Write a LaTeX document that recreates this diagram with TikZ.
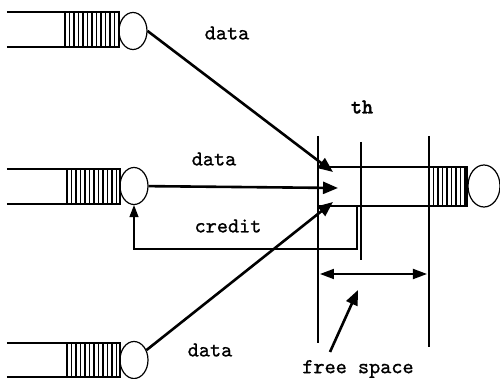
\documentclass[tikz,border=0pt]{standalone}
\usepackage{fontspec}
\newfontfamily\courfont[FakeBold=1.0]{lmmono10-regular.otf}
\newfontfamily\courboldfont[FakeBold=1.4]{lmmonolt10-bold.otf}
\usetikzlibrary{arrows.meta,shapes.geometric}
\tikzset{
  thin line/.style={line width=0.6pt},
  server/.style={ellipse,draw,thin line,inner sep=0pt,minimum width=14pt,minimum height=18.5pt},
  flow/.style={line width=1.3pt,-{Triangle[length=7.5pt,width=6pt]}},
  label/.style={font=\courfont\fontsize{10.6}{12}\selectfont,inner sep=0pt},
}
\newcommand{\hatchbox}[4]{% x0,y0,x1,y1
  \draw[thin line] (#1,#2) rectangle (#3,#4);
  \pgfmathsetmacro{\hstart}{#1+4.5}
  \pgfmathsetmacro{\hnext}{#1+9}
  \foreach \hx in {\hstart,\hnext,...,#3}{\draw[line width=0.55pt] (\hx,#2) -- (\hx,#4);}
}
\begin{document}
\begin{tikzpicture}[x=0.5pt,y=-0.5pt]
\useasboundingbox (0,0) rectangle (500,379);

% input queues with their servers
\draw[thin line] (7,12) -- (65,12) (7,47) -- (65,47);
\hatchbox{65}{12}{119}{47}
\node[server] (sv1) at (133,31) {};

\draw[thin line] (7,169) -- (67,169) (7,204) -- (67,204);
\hatchbox{67}{169}{120}{204}
\node[server] (sv2) at (134,186) {};

\draw[thin line] (7,343) -- (67,343) (7,377) -- (67,377);
\hatchbox{67}{343}{120}{377}
\node[server] (sv3) at (134,360) {};

% output queue
\draw[thin line] (318,167) -- (429,167) (318,206) -- (429,206);
\hatchbox{429}{167}{467}{206}
\node[server,minimum width=16pt,minimum height=21pt] (sv4) at (484,186) {};

% threshold markers
\coordinate (v1a) at (318,136); \coordinate (v1b) at (318,343);
\coordinate (v2a) at (361,142); \coordinate (v2b) at (361,260);
\coordinate (v3a) at (429,136); \coordinate (v3b) at (429,347);
\draw[thin line] (v1a) -- (v1b) (v2a) -- (v2b) (v3a) -- (v3b);

% data flows
\coordinate (t1) at (333,172);
\coordinate (t2) at (338,188);
\coordinate (t3) at (333,202);
\draw[flow] (sv1.east) -- (t1);
\draw[flow] (sv2) -- (t2);
\draw[flow] (sv3) -- (t3);

% credit feedback
\coordinate (cs) at (357,206);
\coordinate (cc) at (357,249);
\draw[thin line,-{Triangle[length=6pt,width=4.5pt]}] (cs) -- (cc) -| (sv2.south);

% free space span
\coordinate (fa) at (320,274);
\coordinate (fb) at (427,274);
\draw[line width=0.9pt,{Triangle[length=7pt,width=5pt]}-{Triangle[length=7pt,width=5pt]}] (fa) -- (fb);

% labels
\node[label] (d1) at (227,33) {data};
\node[label] (d2) at (214,159) {data};
\node[label] (cr) at (228,226) {credit};
\node[label] (d3) at (210,350) {data};
\node[label,font=\courboldfont\fontsize{10.6}{12}\selectfont] (th) at (362,107) {th};
\node[label] (fs) at (358,369) {free space};
\coordinate (fo) at (330,352);
\coordinate (fp) at (358,290);
\draw[flow] (fo) -- (fp);
\end{tikzpicture}
\end{document}
